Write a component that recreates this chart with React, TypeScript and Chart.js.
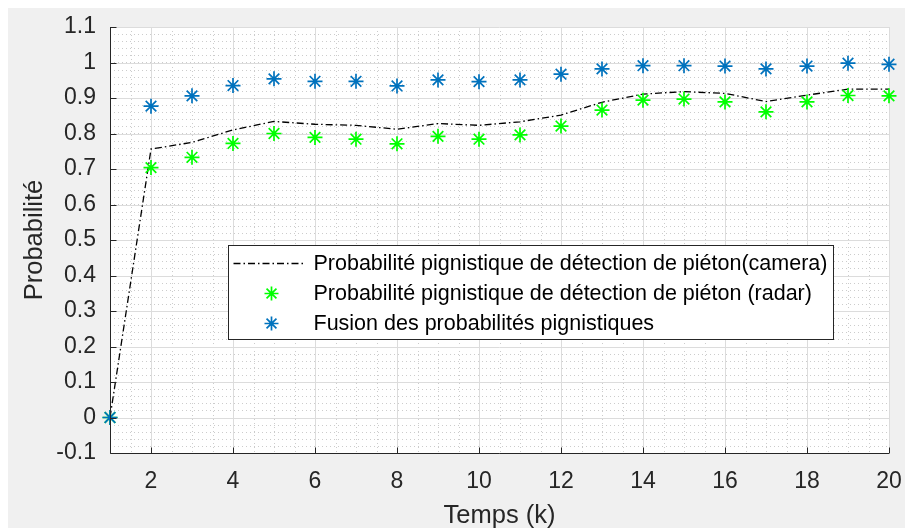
import React, { useEffect, useRef } from "react";
import { Chart, registerables } from "chart.js";

Chart.register(...registerables);

const FONT = "'Liberation Sans', Arial, Helvetica, sans-serif";

const kValues = [1, 2, 3, 4, 5, 6, 7, 8, 9, 10, 11, 12, 13, 14, 15, 16, 17, 18, 19, 20];
const cameraVals = [0, 0.756, 0.775, 0.81, 0.834, 0.826, 0.823, 0.812, 0.828, 0.823, 0.833, 0.852, 0.888, 0.911, 0.918, 0.913, 0.89, 0.908, 0.925, 0.925];
const radarVals = [0, 0.704, 0.733, 0.772, 0.8, 0.789, 0.784, 0.771, 0.792, 0.784, 0.796, 0.821, 0.866, 0.894, 0.897, 0.889, 0.861, 0.889, 0.907, 0.906];
const fusionVals = [0, 0.877, 0.906, 0.935, 0.954, 0.947, 0.947, 0.934, 0.951, 0.946, 0.951, 0.967, 0.982, 0.991, 0.991, 0.99, 0.982, 0.99, 0.998, 0.995];

const seriesLabels = [
  "Probabilité pignistique de détection de piéton(camera)",
  "Probabilité pignistique de détection de piéton (radar)",
  "Fusion des probabilités pignistiques",
];

const xTicks = [2, 4, 6, 8, 10, 12, 14, 16, 18, 20];
const yTicks = [-0.1, 0, 0.1, 0.2, 0.3, 0.4, 0.5, 0.6, 0.7, 0.8, 0.9, 1, 1.1];
const xMinorStep = 0.5;
const yMinorStep = 0.02;

const xTitle = "Temps (k)";
const yTitle = "Probabilité";

const AXIS = "#262626";
const DASH = [7, 3, 1.5, 3];
const STAR_W = 1.7;

function drawStar(ctx: CanvasRenderingContext2D, x: number, y: number, r: number, color: string) {
  ctx.save();
  ctx.strokeStyle = color;
  ctx.lineWidth = STAR_W;
  ctx.setLineDash([]);
  ctx.beginPath();
  ctx.moveTo(x - r, y); ctx.lineTo(x + r, y);
  ctx.moveTo(x, y - r); ctx.lineTo(x, y + r);
  const d = r * Math.SQRT1_2;
  ctx.moveTo(x - d, y - d); ctx.lineTo(x + d, y + d);
  ctx.moveTo(x - d, y + d); ctx.lineTo(x + d, y - d);
  ctx.stroke();
  ctx.restore();
}

const gridPlugin = {
  id: "matlabGrid",
  beforeDraw(chart: any) {
    const { ctx, chartArea: a } = chart;
    ctx.save();
    ctx.fillStyle = "#ffffff";
    ctx.fillRect(a.left, a.top, a.right - a.left, a.bottom - a.top);
    ctx.restore();
  },
  beforeDatasetsDraw(chart: any) {
    const { ctx, chartArea: a, scales } = chart;
    const xs = scales.x, ys = scales.y;
    ctx.save();
    ctx.lineWidth = 1;
    ctx.strokeStyle = "#cccccc";
    ctx.setLineDash([1, 3]);
    ctx.beginPath();
    for (let v = xs.min; v <= xs.max + 1e-9; v += xMinorStep) {
      const px = Math.round(xs.getPixelForValue(v)) + 0.5;
      ctx.moveTo(px, a.top); ctx.lineTo(px, a.bottom);
    }
    for (let v = ys.min; v <= ys.max + 1e-9; v += yMinorStep) {
      const py = Math.round(ys.getPixelForValue(v)) + 0.5;
      ctx.moveTo(a.left, py); ctx.lineTo(a.right, py);
    }
    ctx.stroke();
    ctx.setLineDash([]);
    ctx.strokeStyle = "#dcdcdc";
    ctx.beginPath();
    xTicks.forEach((v) => {
      const px = Math.round(xs.getPixelForValue(v)) + 0.5;
      ctx.moveTo(px, a.top); ctx.lineTo(px, a.bottom);
    });
    yTicks.forEach((v) => {
      const py = Math.round(ys.getPixelForValue(v)) + 0.5;
      ctx.moveTo(a.left, py); ctx.lineTo(a.right, py);
    });
    ctx.stroke();
    ctx.restore();
  },
  afterDatasetsDraw(chart: any) {
    const { ctx, chartArea: a, scales } = chart;
    const xs = scales.x, ys = scales.y;
    ctx.save();
    ctx.strokeStyle = AXIS;
    ctx.lineWidth = 1;
    ctx.beginPath();
    const L = Math.round(a.left) + 0.5;
    const B = Math.round(a.bottom) + 0.5;
    ctx.moveTo(L, a.top); ctx.lineTo(L, B); ctx.lineTo(a.right, B);
    xTicks.forEach((v) => {
      const px = Math.round(xs.getPixelForValue(v)) + 0.5;
      ctx.moveTo(px, B); ctx.lineTo(px, B - 6);
    });
    yTicks.forEach((v) => {
      const py = Math.round(ys.getPixelForValue(v)) + 0.5;
      ctx.moveTo(L, py); ctx.lineTo(L + 6, py);
    });
    ctx.stroke();
    ctx.restore();
  },
  afterDraw(chart: any) {
    const { ctx, chartArea: a } = chart;
    const ds = chart.data.datasets;
    const x0 = Math.round(a.left + 118) + 0.5;
    const y0 = Math.round(a.top + 218) + 0.5;
    ctx.save();
    ctx.font = `21.5px ${FONT}`;
    const maxW = Math.max(...ds.map((d: any) => ctx.measureText(d.label).width));
    const w = Math.round(85 + maxW + 6);
    const h = 94;
    ctx.fillStyle = "#ffffff";
    ctx.fillRect(x0, y0, w, h);
    ctx.strokeStyle = AXIS;
    ctx.lineWidth = 1;
    ctx.strokeRect(x0, y0, w, h);
    ds.forEach((d: any, i: number) => {
      const cy = y0 + 18 + i * 30;
      if (d.showLine !== false) {
        ctx.save();
        ctx.strokeStyle = d.borderColor;
        ctx.lineWidth = d.borderWidth;
        ctx.setLineDash(DASH);
        ctx.beginPath();
        ctx.moveTo(x0 + 5, cy); ctx.lineTo(x0 + 77, cy);
        ctx.stroke();
        ctx.restore();
      } else {
        drawStar(ctx, x0 + 43, cy, 7, d.borderColor);
      }
      ctx.fillStyle = "#000000";
      ctx.textBaseline = "middle";
      ctx.textAlign = "left";
      ctx.fillText(d.label, x0 + 85, cy + 1);
    });
    ctx.restore();
  },
};

const toPoints = (vals: number[]) => kValues.map((k, i) => ({ x: k, y: vals[i] }));

export default function App() {
  const ref = useRef<HTMLCanvasElement | null>(null);
  useEffect(() => {
    if (!ref.current) return;
    const chart = new Chart(ref.current, {
      type: "line",
      data: {
        datasets: [
          {
            label: seriesLabels[0],
            data: toPoints(cameraVals),
            borderColor: "#000000",
            borderWidth: 1.3,
            borderDash: DASH,
            pointRadius: 0,
            fill: false,
            tension: 0,
            order: 2,
          } as any,
          {
            label: seriesLabels[1],
            data: toPoints(radarVals),
            showLine: false,
            pointStyle: "star",
            pointRadius: 7.5,
            pointBorderWidth: STAR_W,
            borderColor: "#00ff00",
            backgroundColor: "#00ff00",
            clip: false,
            order: 1,
          } as any,
          {
            label: seriesLabels[2],
            data: toPoints(fusionVals),
            showLine: false,
            pointStyle: "star",
            pointRadius: 7.5,
            pointBorderWidth: STAR_W,
            borderColor: "#0072bd",
            backgroundColor: "#0072bd",
            clip: false,
            order: 0,
          } as any,
        ],
      },
      options: {
        animation: false,
        responsive: false,
        events: [],
        layout: { padding: { left: 0, top: 19, right: 16, bottom: 0 } },
        plugins: { legend: { display: false }, tooltip: { enabled: false } },
        scales: {
          x: {
            type: "linear",
            min: 1,
            max: 20,
            grid: { display: false, drawTicks: false },
            border: { display: false },
            afterBuildTicks: (s: any) => { s.ticks = xTicks.map((v) => ({ value: v })); },
            afterFit: (s: any) => { s.height = 75; s.paddingLeft = 0; s.paddingRight = 0; },
            ticks: {
              padding: 15,
              color: AXIS,
              font: { family: FONT, size: 23 },
              maxRotation: 0,
              autoSkip: false,
              callback: (v: any) => String(v),
            },
            title: {
              display: true,
              text: xTitle,
              color: AXIS,
              font: { family: FONT, size: 25.5 },
              padding: { top: 0, bottom: -3 },
            },
          },
          y: {
            type: "linear",
            min: -0.1,
            max: 1.1,
            grid: { display: false, drawTicks: false },
            border: { display: false },
            afterBuildTicks: (s: any) => { s.ticks = yTicks.map((v) => ({ value: v })); },
            afterFit: (s: any) => { s.width = 102; s.paddingTop = 0; s.paddingBottom = 0; },
            ticks: {
              padding: 14,
              color: AXIS,
              font: { family: FONT, size: 23 },
              autoSkip: false,
              callback: (v: any) => String(Number(Number(v).toFixed(2))),
            },
            title: {
              display: true,
              text: yTitle,
              color: AXIS,
              font: { family: FONT, size: 25.5 },
              padding: { top: 12, bottom: 0 },
            },
          },
        },
      },
      plugins: [gridPlugin],
    });
    return () => chart.destroy();
  }, []);
  return (
    <div
      style={{
        position: "fixed",
        left: 8,
        top: 8,
        width: 897,
        height: 520,
        background: "#f0f0f0",
      }}
    >
      <canvas ref={ref} width={897} height={520} style={{ display: "block" }} />
    </div>
  );
}
